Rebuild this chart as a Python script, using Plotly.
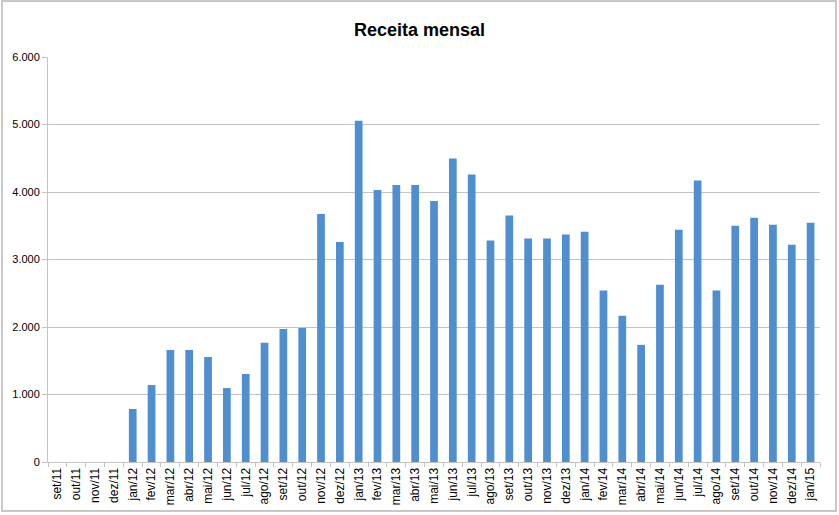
import plotly.graph_objects as go

months = ["set/11", "out/11", "nov/11", "dez/11",
          "jan/12", "fev/12", "mar/12", "abr/12", "mai/12", "jun/12", "jul/12", "ago/12",
          "set/12", "out/12", "nov/12", "dez/12",
          "jan/13", "fev/13", "mar/13", "abr/13", "mai/13", "jun/13", "jul/13", "ago/13",
          "set/13", "out/13", "nov/13", "dez/13",
          "jan/14", "fev/14", "mar/14", "abr/14", "mai/14", "jun/14", "jul/14", "ago/14",
          "set/14", "out/14", "nov/14", "dez/14",
          "jan/15"]
receita = [0, 0, 0, 0,
           785, 1140, 1660, 1660, 1555, 1095, 1305, 1765,
           1970, 1985, 3675, 3260,
           5055, 4030, 4105, 4105, 3865, 4495, 4260, 3280,
           3650, 3310, 3310, 3370,
           3410, 2540, 2165, 1735, 2625, 3440, 4170, 2540,
           3500, 3620, 3515, 3220,
           3545]

FONT = "Liberation Sans, Arial, sans-serif"
GRID = "#c4c4c4"

fig = go.Figure(go.Bar(x=months, y=receita, marker=dict(color="#4F8ECF", line=dict(width=0))))

fig.update_layout(
    width=839, height=515,
    margin=dict(l=48, r=19, t=57, b=53),
    paper_bgcolor="white", plot_bgcolor="white",
    bargap=0.59,
    separators=",.",
    showlegend=False,
    title=dict(text="<b>Receita mensal</b>", x=0.5, xanchor="center", y=0.942, yanchor="middle",
               font=dict(family=FONT, size=18, color="black")),
    font=dict(family=FONT, size=11, color="black"),
    xaxis=dict(type="category", tickangle=-90, showgrid=False, showline=True, linecolor=GRID,
               linewidth=1, ticks="outside", ticklen=4, tickcolor=GRID, tickson="boundaries",
               tickfont=dict(size=12), fixedrange=True, automargin=False),
    yaxis=dict(range=[0, 6000], dtick=1000, tickformat=",d", showgrid=True, gridcolor=GRID,
               gridwidth=1, showline=True, linecolor=GRID, linewidth=1, ticks="outside",
               ticklen=5, tickcolor=GRID, zeroline=False, tickfont=dict(size=11), fixedrange=True,
               automargin=False),
    shapes=[dict(type="rect", xref="paper", yref="paper",
                 x0=-0.0596, x1=1.0207, y0=-0.121, y1=1.138,
                 line=dict(color="#c8c8c8", width=2), layer="below")],
)

fig.write_html("out.html")
